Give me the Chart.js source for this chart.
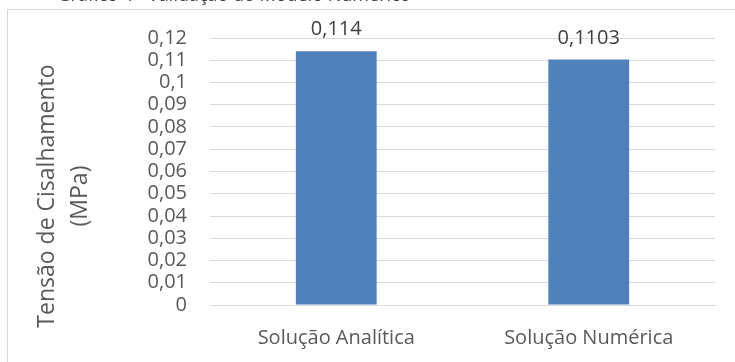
<!DOCTYPE html>
<html>
<head>
<meta charset="utf-8">
<script src="https://cdn.jsdelivr.net/npm/chart.js@4.4.1/dist/chart.umd.min.js"></script>
<style>
  html, body { margin: 0; padding: 0; background: #fff; }
  #wrap { width: 735px; height: 362px; }
</style>
</head>
<body>
<div id="wrap"><canvas id="chart" width="735" height="362"></canvas></div>
<script>
const categories = ['Solução Analítica', 'Solução Numérica'];
const values = [0.114, 0.1103];
const valueLabels = ['0,114', '0,1103'];
const yTitle = ['Tensão de Cisalhamento', '(MPa)'];
const titleText = 'Gráfico 4 - Validação do Modelo Numérico';

const fmt = v => (Math.round(v * 100) / 100).toString().replace('.', ',');

// moldura, título cortado, título do eixo e rótulos de dados
const extras = {
  id: 'extras',
  beforeDraw(chart) {
    const c = chart.ctx;
    c.save();
    c.strokeStyle = '#d9d9d9';
    c.lineWidth = 1;
    c.strokeRect(7.5, 9.5, 900, 500);
    c.fillStyle = '#404040';
    c.font = '18px "Open Sans"';
    c.textAlign = 'center';
    c.textBaseline = 'alphabetic';
    c.fillText(titleText, 234, 1);

    c.fillStyle = '#595959';
    c.font = '23px "Open Sans"';
    c.textBaseline = 'middle';
    c.translate(0, 196);
    c.rotate(-Math.PI / 2);
    c.fillText(yTitle[0], 0, 47);
    c.fillText(yTitle[1], 0, 80);
    c.restore();
  },
  afterDatasetsDraw(chart) {
    const c = chart.ctx;
    const meta = chart.getDatasetMeta(0);
    c.save();
    c.fillStyle = '#404040';
    c.font = '20px "Open Sans"';
    c.textAlign = 'center';
    c.textBaseline = 'alphabetic';
    meta.data.forEach((bar, i) => {
      c.fillText(valueLabels[i], bar.x, bar.y - 16);
    });
    c.restore();
  }
};

new Chart(document.getElementById('chart'), {
  type: 'bar',
  data: {
    labels: categories,
    datasets: [{
      data: values,
      backgroundColor: '#4f81bd',
      barPercentage: 0.32,
      categoryPercentage: 1
    }]
  },
  options: {
    responsive: false,
    animation: false,
    layout: { padding: { top: 38, right: 20, left: 0, bottom: 0 } },
    plugins: {
      legend: { display: false },
      tooltip: { enabled: false }
    },
    scales: {
      x: {
        grid: { display: false, drawTicks: false },
        border: { display: true, color: '#d9d9d9' },
        ticks: { color: '#595959', font: { family: 'Open Sans', size: 20 }, padding: 21 },
        afterFit(s) { s.height = 57; }
      },
      y: {
        min: 0,
        max: 0.12,
        grid: { color: '#d9d9d9', drawTicks: false },
        border: { display: false },
        ticks: {
          stepSize: 0.01,
          autoSkip: false,
          color: '#595959',
          font: { family: 'Open Sans', size: 20, lineHeight: 1 },
          padding: 23,
          callback: v => fmt(v)
        },
        afterFit(s) { s.width = 210; }
      }
    }
  },
  plugins: [extras]
});
</script>
</body>
</html>
